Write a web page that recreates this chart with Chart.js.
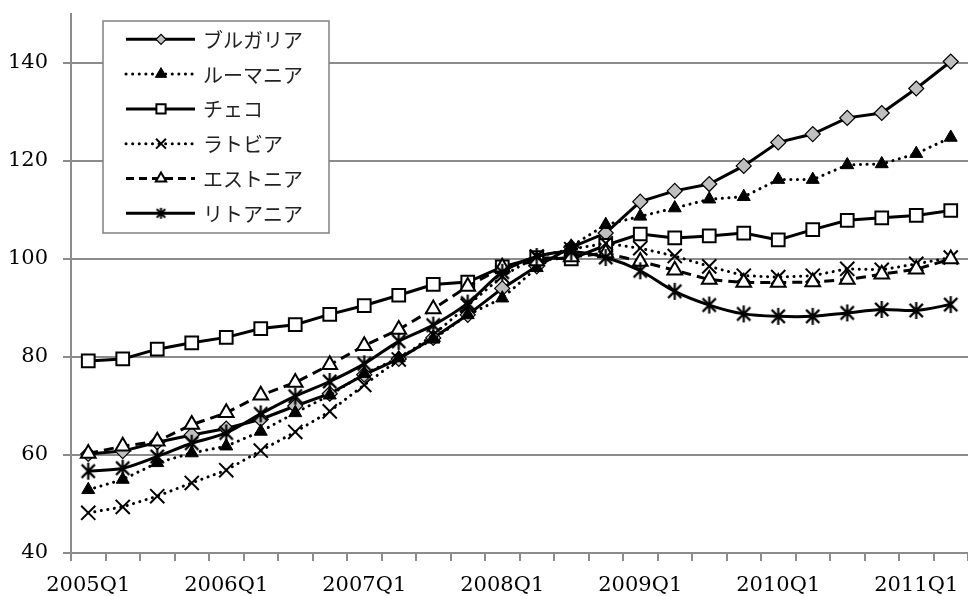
<!DOCTYPE html>
<html>
<head>
<meta charset="utf-8">
<script src="https://cdn.jsdelivr.net/npm/chart.js@4.4.1/dist/chart.umd.min.js"></script>
<style>
  html, body { margin: 0; padding: 0; overflow: hidden; background: #fff; }
  #wrap { width: 980px; height: 596px; }
</style>
</head>
<body>
<div id="wrap"><canvas id="c" width="980" height="596"></canvas></div>
<script>
// Quarterly index series, 2005Q1 - 2011Q2
const quarters = [
  '2005Q1','2005Q2','2005Q3','2005Q4',
  '2006Q1','2006Q2','2006Q3','2006Q4',
  '2007Q1','2007Q2','2007Q3','2007Q4',
  '2008Q1','2008Q2','2008Q3','2008Q4',
  '2009Q1','2009Q2','2009Q3','2009Q4',
  '2010Q1','2010Q2','2010Q3','2010Q4',
  '2011Q1','2011Q2'
];
const seriesNames = ['ブルガリア', 'ルーマニア', 'チェコ', 'ラトビア', 'エストニア', 'リトアニア'];
const bulgaria  = [60.2, 60.8, 62.6, 64.1, 65.4, 67.3, 70.0, 72.5, 76.4, 79.6, 83.9, 88.6, 94.0, 98.5, 102.4, 105.3, 111.7, 113.9, 115.3, 119.0, 123.8, 125.5, 128.8, 129.8, 134.8, 140.3];
const romania   = [52.9, 55.0, 58.4, 60.4, 61.8, 64.8, 68.6, 72.2, 76.6, 79.8, 83.6, 88.6, 92.0, 98.2, 102.6, 107.0, 108.7, 110.4, 112.2, 112.7, 116.2, 116.2, 119.2, 119.4, 121.5, 124.8];
const czech     = [79.2, 79.6, 81.6, 82.9, 84.0, 85.8, 86.6, 88.7, 90.5, 92.6, 94.8, 95.3, 98.4, 100.3, 100.0, 102.8, 105.1, 104.3, 104.7, 105.3, 103.9, 106.0, 107.9, 108.4, 108.9, 109.9];
const latvia    = [48.2, 49.4, 51.6, 54.3, 56.9, 60.9, 64.7, 68.9, 74.3, 79.5, 84.5, 90.5, 96.5, 100.5, 102.0, 103.2, 102.2, 100.6, 98.5, 96.6, 96.3, 96.6, 98.0, 97.8, 99.0, 100.3];
const estonia   = [60.3, 61.8, 62.8, 66.2, 68.6, 72.2, 74.8, 78.4, 82.3, 85.6, 89.8, 94.4, 98.3, 99.6, 100.4, 101.2, 99.5, 97.7, 95.8, 95.2, 95.2, 95.3, 95.8, 96.9, 97.9, 100.0];
const lithuania = [56.7, 57.3, 59.7, 62.4, 64.5, 68.4, 72.0, 75.0, 78.6, 83.2, 86.5, 91.0, 97.3, 100.5, 101.5, 100.3, 97.6, 93.4, 90.6, 88.8, 88.3, 88.3, 89.0, 89.7, 89.5, 90.7];
const yMin = 40, yMax = 150, yStep = 20;

const AXIS_GRAY = '#8c8c8c';
const SERIF = '"DejaVu Serif", serif';
const JP = '"Noto Sans CJK JP", sans-serif';

// Six-ray asterisk marker (vertical stroke plus an X)
function makeAsterisk(size, lw) {
  const cv = document.createElement('canvas');
  cv.width = size; cv.height = size;
  const g = cv.getContext('2d');
  const c = size / 2, r = size / 2 - 1;
  g.strokeStyle = '#000';
  g.lineWidth = lw;
  g.lineCap = 'butt';
  g.beginPath();
  g.moveTo(c, c - r); g.lineTo(c, c + r);
  const d = r * Math.SQRT1_2 * 1.1;
  g.moveTo(c - d, c - d); g.lineTo(c + d, c + d);
  g.moveTo(c + d, c - d); g.lineTo(c - d, c + d);
  g.stroke();
  return cv;
}
const asteriskBig = makeAsterisk(19, 2.2);
const asteriskSmall = makeAsterisk(13, 2);

const DOT = [0.1, 6.5];
const DASH = [10, 6];

const datasets = [
  { label: seriesNames[0], data: bulgaria, borderColor: '#000', borderWidth: 3, borderDash: [],
    pointStyle: 'rectRot', pointRadius: 7.5, pointBackgroundColor: '#bfbfbf', pointBorderColor: '#000', pointBorderWidth: 1.2,
    legendRadius: 5, order: 6 },
  { label: seriesNames[1], data: romania, borderColor: '#000', borderWidth: 3, borderDash: DOT, borderCapStyle: 'round',
    pointStyle: 'triangle', pointRadius: 7.5, pointBackgroundColor: '#000', pointBorderColor: '#000', pointBorderWidth: 1,
    legendRadius: 6.5, order: 5 },
  { label: seriesNames[2], data: czech, borderColor: '#000', borderWidth: 3, borderDash: [],
    pointStyle: 'rect', pointRadius: 9, pointBackgroundColor: '#fff', pointBorderColor: '#000', pointBorderWidth: 2,
    legendRadius: 6.5, order: 4 },
  { label: seriesNames[3], data: latvia, borderColor: '#000', borderWidth: 3, borderDash: DOT, borderCapStyle: 'round',
    pointStyle: 'crossRot', pointRadius: 10, pointBackgroundColor: '#000', pointBorderColor: '#000', pointBorderWidth: 2,
    legendRadius: 7, order: 3 },
  { label: seriesNames[4], data: estonia, borderColor: '#000', borderWidth: 3, borderDash: DASH,
    pointStyle: 'triangle', pointRadius: 8.5, pointBackgroundColor: '#fff', pointBorderColor: '#000', pointBorderWidth: 2,
    legendRadius: 6, legendDash: [8, 5], order: 2 },
  { label: seriesNames[5], data: lithuania, borderColor: '#000', borderWidth: 3, borderDash: [], tension: 0.3,
    pointStyle: asteriskBig, legendImage: asteriskSmall, pointRadius: 8, pointBackgroundColor: '#000', pointBorderColor: '#000', pointBorderWidth: 2,
    order: 1 }
];

// Boxed legend in the upper-left of the plot
const boxedLegend = {
  id: 'boxedLegend',
  afterDatasetsDraw(chart) {
    const ctx = chart.ctx;
    const bx = 103, by = 21, bw = 226, bh = 212;
    ctx.save();
    ctx.fillStyle = '#fff';
    ctx.fillRect(bx, by, bw, bh);
    ctx.strokeStyle = '#808080';
    ctx.lineWidth = 1.5;
    ctx.strokeRect(bx, by, bw, bh);
    const rowH = 34.8, firstY = 39.3;
    datasets.forEach((ds, i) => {
      const y = firstY + i * rowH;
      ctx.save();
      ctx.strokeStyle = '#000';
      ctx.lineWidth = 3;
      ctx.lineCap = ds.borderCapStyle || 'butt';
      ctx.setLineDash(ds.legendDash || ds.borderDash || []);
      ctx.beginPath();
      ctx.moveTo(126, y);
      ctx.lineTo(195, y);
      ctx.stroke();
      ctx.restore();
      ctx.save();
      if (ds.legendImage) {
        const im = ds.legendImage;
        ctx.drawImage(im, 161 - im.width / 2, y - im.height / 2);
      } else {
        ctx.fillStyle = ds.pointBackgroundColor;
        ctx.strokeStyle = ds.pointBorderColor;
        ctx.lineWidth = ds.pointBorderWidth;
        Chart.helpers.drawPoint(ctx, {
          pointStyle: ds.pointStyle, radius: ds.legendRadius, rotation: 0, borderWidth: ds.pointBorderWidth
        }, 161, y);
      }
      ctx.restore();
      ctx.fillStyle = '#222';
      ctx.font = '20px ' + JP;
      ctx.textBaseline = 'middle';
      ctx.textAlign = 'left';
      ctx.fillText(ds.label, 203, y + 1);
    });
    ctx.restore();
  }
};

new Chart(document.getElementById('c'), {
  type: 'line',
  data: { labels: quarters, datasets },
  plugins: [boxedLegend],
  options: {
    responsive: false,
    animation: false,
    devicePixelRatio: 1,
    layout: { padding: { top: 14, left: 0, right: 0, bottom: 0 } },
    plugins: { legend: { display: false }, tooltip: { enabled: false } },
    elements: { line: { tension: 0, fill: false } },
    scales: {
      x: {
        type: 'category',
        offset: true,
        grid: { offset: true, drawOnChartArea: false, drawTicks: true, tickLength: 8, color: AXIS_GRAY, lineWidth: 2 },
        border: { color: AXIS_GRAY, width: 2 },
        ticks: {
          autoSkip: false, maxRotation: 0, minRotation: 0, padding: 12,
          color: '#000', font: { family: SERIF, size: 21 },
          callback(value, index) { return index % 4 === 0 ? quarters[index] : ''; }
        },
        afterFit(scale) { scale.height = 43; scale.paddingLeft = 0; scale.paddingRight = 0; }
      },
      y: {
        min: yMin, max: yMax,
        grid: { color: AXIS_GRAY, lineWidth: 2, tickLength: 8, drawTicks: true },
        border: { color: AXIS_GRAY, width: 2 },
        ticks: {
          stepSize: yStep, includeBounds: false, padding: 15,
          color: '#000', font: { family: SERIF, size: 21 }
        },
        afterFit(scale) { scale.width = 71; scale.paddingTop = 0; scale.paddingBottom = 0; }
      }
    }
  }
});
</script>
</body>
</html>
